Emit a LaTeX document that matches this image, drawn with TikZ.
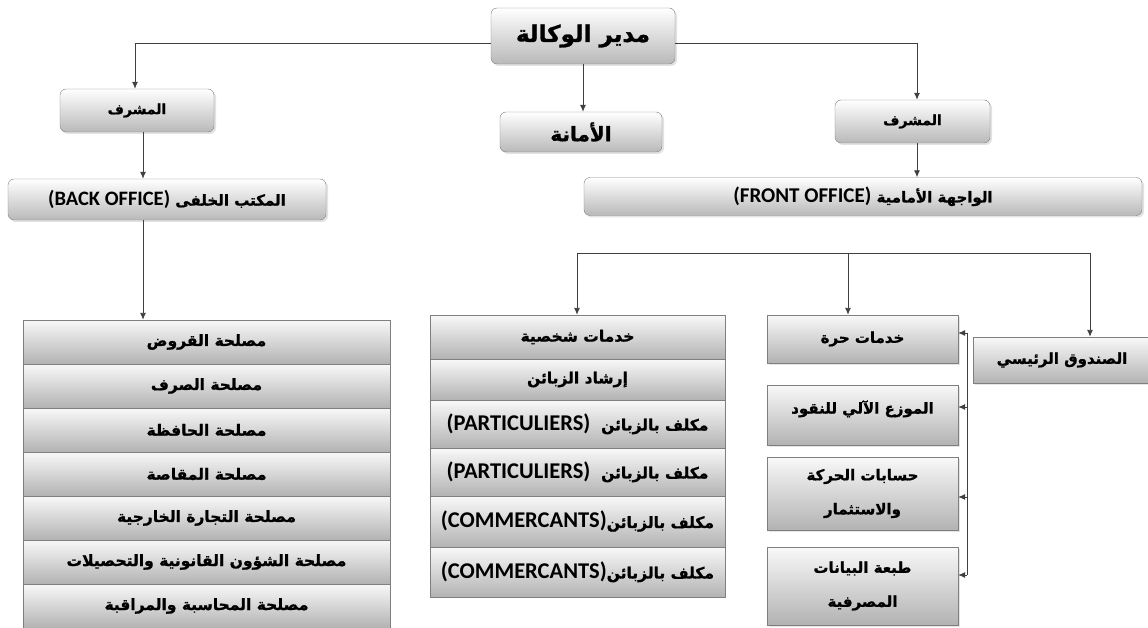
\documentclass[tikz,border=0pt]{standalone}
\usepackage{fontspec}
\setmainfont{DejaVu Sans}
\newfontfamily\ar[Script=Arabic, BoldFeatures={FakeBold=1.2}]{DejaVu Sans}
\newfontfamily\lat{Carlito}
\TeXXeTstate=1
\usetikzlibrary{shadows,arrows.meta}
\definecolor{bord}{HTML}{7F7F7F}
\definecolor{lin}{HTML}{404040}
\tikzset{
  rbox/.style={draw=bord, rounded corners=6pt, top color=white, bottom color=gray!55,
    drop shadow={shadow xshift=2pt, shadow yshift=-2pt, fill=gray!45},
    inner sep=0pt, font=\ar\bfseries\fontsize{14}{16}\selectfont},
  sbox/.style={draw=bord, top color=white!95!gray, bottom color=gray!60,
    drop shadow={shadow xshift=2pt, shadow yshift=-2pt, fill=gray!40},
    inner sep=0pt, align=center, font=\ar\bfseries\fontsize{15}{34}\selectfont},
  cell/.style={draw=bord, top color=white!95!gray, bottom color=gray!60,
    inner sep=0pt, font=\ar\bfseries\fontsize{15.5}{18}\selectfont},
  arr/.style={draw=lin, line width=0.9pt, -{Latex[length=7pt,width=6pt]}},
  ln/.style={draw=lin, line width=0.9pt},
}
\newcommand{\AR}[1]{\beginR #1\endR}
\newcommand{\LT}[2]{\beginL{\lat\bfseries\fontsize{#1}{#1}\selectfont #2}\endL}
\begin{document}
\begin{tikzpicture}[x=1pt,y=-1pt]
\useasboundingbox (0,0) rectangle (1148,628);
% top level
\node[rbox, minimum width=184pt, minimum height=56pt, font=\ar\bfseries\fontsize{23}{26}\selectfont] (dir) at (583,36) {\AR{مدير الوكالة}};
\node[rbox, minimum width=154pt, minimum height=43pt] (supL) at (137,110.5) {\AR{المشرف}};
\node[rbox, minimum width=162pt, minimum height=40pt, font=\ar\bfseries\fontsize{20}{22}\selectfont] (amana) at (581,132) {\AR{الأمانة}};
\node[rbox, minimum width=155pt, minimum height=43pt] (supR) at (912.5,121.5) {\AR{المشرف}};
\node[rbox, minimum width=318pt, minimum height=41pt, font=\ar\bfseries\fontsize{15}{17}\selectfont] (back) at (167,199.5) {\AR{المكتب الخلفى \LT{20.5}{(BACK OFFICE)}}};
\node[rbox, minimum width=558pt, minimum height=38pt, font=\ar\bfseries\fontsize{15}{17}\selectfont] (front) at (863,196.5) {\AR{الواجهة الأمامية \LT{21}{(FRONT OFFICE)}}};
% left table
\foreach \n/\y/\t in {l1/342/{مصلحة القروض}, l2/386/{مصلحة الصرف}, l3/430/{مصلحة الحافظة}, l4/474/{مصلحة المقاصة}, l5/518/{مصلحة التجارة الخارجية}, l6/562/{مصلحة الشؤون القانونية والتحصيلات}, l7/606/{مصلحة المحاسبة والمراقبة}}
  \node[cell, minimum width=367pt, minimum height=44pt] (\n) at (206.5,\y) {\AR{\t}};
% middle table
\node[cell, minimum width=295pt, minimum height=44pt] (m1) at (577.5,337) {\AR{خدمات شخصية}};
\node[cell, minimum width=295pt, minimum height=41pt] (m2) at (577.5,379.5) {\AR{إرشاد الزبائن}};
\node[cell, minimum width=295pt, minimum height=48pt] (m3) at (577.5,424) {\AR{مكلف بالزبائن \ \LT{22.5}{(PARTICULIERS)}}};
\node[cell, minimum width=295pt, minimum height=48pt] (m4) at (577.5,472) {\AR{مكلف بالزبائن \ \LT{22.5}{(PARTICULIERS)}}};
\node[cell, minimum width=295pt, minimum height=51pt] (m5) at (577.5,521.5) {\AR{مكلف بالزبائن\LT{22.5}{(COMMERCANTS)}}};
\node[cell, minimum width=295pt, minimum height=50pt] (m6) at (577.5,572) {\AR{مكلف بالزبائن\LT{22.5}{(COMMERCANTS)}}};
% right column
\node[sbox, minimum width=191pt, minimum height=48pt] (k1) at (862.5,339) {\AR{خدمات حرة}};
\node[sbox, minimum width=191pt, minimum height=60pt, text depth=0pt] (k2) at (862.5,415) {\raisebox{16pt}{\AR{الموزع الآلي للنقود}}};
\node[sbox, minimum width=191pt, minimum height=73pt] (k3) at (862.5,493.5) {\AR{حسابات الحركة}\\\AR{والاستثمار}};
\node[sbox, minimum width=191pt, minimum height=78pt] (k4) at (862.5,586) {\AR{طبعة البيانات}\\\AR{المصرفية}};
\node[sbox, minimum width=178pt, minimum height=46pt] (sand) at (1062,360) {\AR{الصندوق الرئيسي}};
% connectors top
\coordinate (dl) at (491,43);
\coordinate (dr) at (675,43);
\draw[arr] (dl) -| ([xshift=-2pt]supL.north);
\draw[arr] (dr) -| ([xshift=4.5pt]supR.north);
\draw[arr] (dir.south) -- (dir.south |- amana.north);
\draw[arr] ([xshift=6pt]supL.south) -- ([xshift=6pt]supL.south |- back.north);
\draw[arr] ([xshift=4.5pt]supR.south) -- ([xshift=4.5pt]supR.south |- front.north);
\draw[arr] ([xshift=-24pt]back.south) -- ([xshift=-24pt]back.south |- l1.north);
% front office bracket
\coordinate (bl) at (577,253);
\coordinate (bm) at (848,253);
\coordinate (br) at (1090,253);
\draw[ln] (bl) -- (br);
\draw[arr] (bl) -- (bl |- m1.north);
\draw[arr] (bm) -- (bm |- k1.north);
\draw[arr] (br) -- (br |- sand.north);
% right bracket
\coordinate (v1) at (967,333);
\coordinate (v2) at (967,407);
\coordinate (v3) at (967,497);
\coordinate (v4) at (967,575);
\draw[ln] (v1) -- (v4);
\draw[arr] (v1) -- (v1 -| k1.east);
\draw[arr] (v2) -- (v2 -| k2.east);
\draw[arr] (v3) -- (v3 -| k3.east);
\draw[arr] (v4) -- (v4 -| k4.east);
\end{tikzpicture}
\end{document}
